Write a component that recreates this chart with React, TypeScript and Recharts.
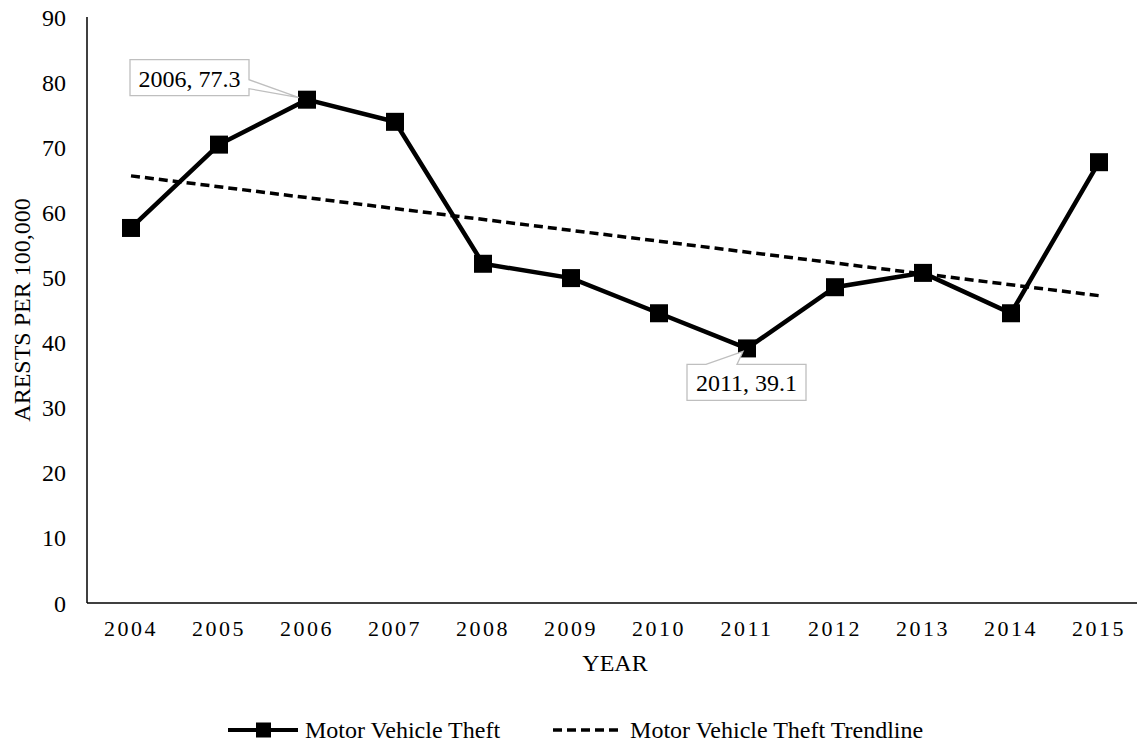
import React from 'react';
import {
  LineChart,
  Line,
  XAxis,
  YAxis,
  Legend,
  LabelList
} from 'recharts';

const years = ['2004', '2005', '2006', '2007', '2008', '2009', '2010', '2011', '2012', '2013', '2014', '2015'];
const theftRates = [57.6, 70.4, 77.3, 73.9, 52.1, 49.9, 44.5, 39.1, 48.5, 50.7, 44.5, 67.7];
// trendline end points; middle years left empty and joined
const trendRates = [65.6, null, null, null, null, null, null, null, null, null, null, 47.2];
const yTicks = [0, 10, 20, 30, 40, 50, 60, 70, 80, 90];
const calloutIndexes = [2, 7];

const FONT = '"Liberation Serif", "Times New Roman", serif';

const data = years.map((year, i) => ({
  year,
  theft: theftRates[i],
  trend: trendRates[i]
}));

const SquareDot = (props: any) => {
  const { cx, cy, index } = props;
  if (cx == null || cy == null) return null;
  return <rect key={`dot-${index}`} x={cx - 9} y={cy - 9} width={18} height={18} fill="#000" />;
};

const Callout = (props: any) => {
  const { x, y, index } = props;
  if (!calloutIndexes.includes(index)) return null;
  const text = `${years[index]}, ${theftRates[index]}`;
  if (y < 200) {
    // box up-left of the point, pointer out of the right side
    const l = x - 177, r = x - 58, t = y - 40, b = y - 4;
    const d = `M${l},${t} L${r},${t} L${r},${y - 20} L${x - 8},${y - 2} L${r},${y - 11} L${r},${b} L${l},${b} Z`;
    return (
      <g>
        <path d={d} fill="#fff" stroke="#bfbfbf" strokeWidth={1.3} />
        <text x={(l + r) / 2} y={t + 27} textAnchor="middle" fontFamily={FONT} fontSize={24} fill="#000">
          {text}
        </text>
      </g>
    );
  }
  // box below the point, pointer out of the top edge
  const l = x - 60, r = x + 59, t = y + 16, b = y + 52;
  const d = `M${l},${t} L${x - 41},${t} L${x - 4},${y + 3} L${x - 10},${t} L${r},${t} L${r},${b} L${l},${b} Z`;
  return (
    <g>
      <path d={d} fill="#fff" stroke="#bfbfbf" strokeWidth={1.3} />
      <text x={(l + r) / 2} y={t + 27} textAnchor="middle" fontFamily={FONT} fontSize={24} fill="#000">
        {text}
      </text>
    </g>
  );
};

const CustomLegend = () => (
  <div
    style={{
      display: 'flex',
      alignItems: 'center',
      paddingLeft: 228,
      paddingTop: 23,
      fontFamily: FONT,
      fontSize: 24,
      lineHeight: '28px',
      color: '#000',
      whiteSpace: 'nowrap'
    }}
  >
    <svg width={70} height={20} style={{ marginRight: 7 }}>
      <line x1={0} y1={10} x2={70} y2={10} stroke="#000" strokeWidth={4} />
      <rect x={28} y={2.5} width={15} height={15} fill="#000" />
    </svg>
    <span>Motor Vehicle Theft</span>
    <svg width={70} height={20} style={{ marginLeft: 53, marginRight: 7 }}>
      <line x1={0} y1={10} x2={70} y2={10} stroke="#000" strokeWidth={3.5} strokeDasharray="9 5" />
    </svg>
    <span>Motor Vehicle Theft Trendline</span>
  </div>
);

const App: React.FC = () => {
  return (
    <div style={{ width: 1145, height: 746, marginTop: -8, marginLeft: -8, background: '#fff' }}>
      <LineChart
        width={1145}
        height={746}
        data={data}
        margin={{ top: 17, right: 2, bottom: 0, left: 0 }}
      >
        <XAxis
          dataKey="year"
          padding={{ left: 44, right: 44 }}
          height={90}
          axisLine={{ stroke: '#000', strokeWidth: 1.5 }}
          tickLine={false}
          tickMargin={11}
          tick={{ fontSize: 22, fill: '#000', fontFamily: FONT, letterSpacing: 2.5 }}
          label={{
            value: 'YEAR',
            position: 'insideBottom',
            offset: 22,
            style: { fontSize: 24, fill: '#000', fontFamily: FONT }
          }}
        />
        <XAxis
          xAxisId="top"
          dataKey="year"
          orientation="top"
          padding={{ left: 44, right: 44 }}
          height={0}
          tick={false}
          tickLine={false}
          axisLine={{ stroke: '#000', strokeWidth: 1.5 }}
        />
        <YAxis
          width={87}
          domain={[0, 90]}
          ticks={yTicks}
          interval={0}
          axisLine={{ stroke: '#000', strokeWidth: 1.5 }}
          tickLine={false}
          tickMargin={15}
          tick={{ fontSize: 24, fill: '#000', fontFamily: FONT }}
          label={{
            value: 'ARESTS PER 100,000',
            angle: -90,
            position: 'insideLeft',
            offset: 21,
            style: { fontSize: 24, fill: '#000', fontFamily: FONT, textAnchor: 'middle' }
          }}
        />
        <YAxis
          yAxisId="right"
          orientation="right"
          width={0}
          domain={[0, 90]}
          tick={false}
          tickLine={false}
          axisLine={{ stroke: '#000', strokeWidth: 1.5 }}
        />
        <Line
          dataKey="trend"
          stroke="#000"
          strokeWidth={3.5}
          strokeDasharray="9 5"
          dot={false}
          activeDot={false}
          connectNulls
          isAnimationActive={false}
        />
        <Line
          dataKey="theft"
          stroke="#000"
          strokeWidth={4.5}
          dot={<SquareDot />}
          activeDot={false}
          isAnimationActive={false}
        >
          <LabelList dataKey="theft" content={<Callout />} />
        </Line>
        <Legend verticalAlign="bottom" height={53} content={<CustomLegend />} />
      </LineChart>
    </div>
  );
};

export default App;
